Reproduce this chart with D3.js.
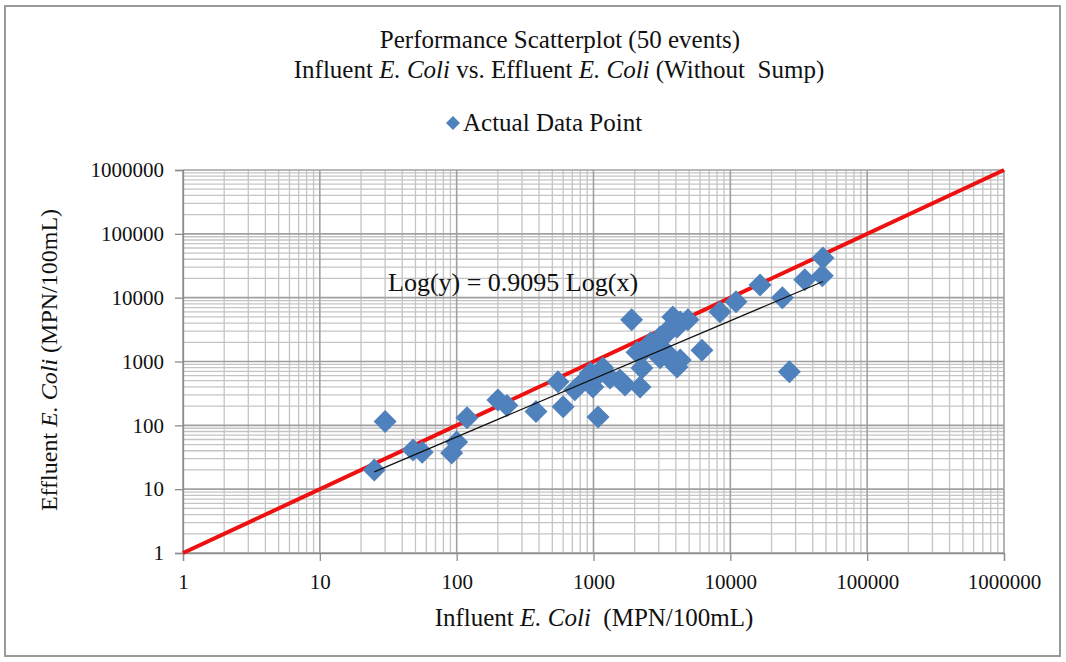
<!DOCTYPE html>
<html>
<head>
<meta charset="utf-8">
<script src="https://cdn.jsdelivr.net/npm/d3@7"></script>
<style>
  body { margin: 0; background: #fff; }
  text { font-family: "Liberation Serif", "Times New Roman", serif; fill: #111; }
</style>
</head>
<body>
<script>
// Chart size
const width = 1066
const height = 662

// Data (influent, effluent), MPN/100mL
const influent = [25, 30, 48, 56, 92, 100, 119, 200, 233, 380,
  550, 600, 950, 990, 1080, 1170, 1560, 2190, 1900, 2080,
  2600, 3070, 3800, 4080, 3450, 4080, 6200, 8400, 11000, 16500,
  24000, 27000, 35000, 47500, 47000, 730, 870, 1320, 1700, 2380,
  2820, 3340, 3630, 4300, 3070, 3750, 4300, 1080, 2260, 4900];
const effluent = [20, 115, 41, 38, 37, 55, 131, 250, 205, 165,
  480, 195, 660, 400, 135, 790, 515, 400, 4500, 1400,
  1950, 2430, 5000, 3480, 1360, 820, 1500, 6000, 8600, 15800,
  10000, 690, 19000, 42000, 22000, 360, 520, 550, 430, 1520,
  1820, 2600, 3360, 4170, 1140, 990, 1060, 620, 790, 4500];

const tickValues = [1, 10, 100, 1000, 10000, 100000, 1000000];
const slope = 0.9095;   // Log(y) = 0.9095 Log(x)
const trendRange = [25, 47500];

// Scales
const x = d3.scaleLog().domain([1, 1e6]).range([183, 1004]);
const y = d3.scaleLog().domain([1, 1e6]).range([553, 170]);

const svg = d3.select("body")
  .append("svg")
  .attr("width", width)
  .attr("height", height);

// outer frame
svg.append("rect")
  .attr("x", 5).attr("y", 6)
  .attr("width", 1055).attr("height", 650)
  .attr("fill", "#fff")
  .attr("stroke", "#9a9a9a")
  .attr("stroke-width", 2);

// minor + major grid lines
const minor = [];
for (let e = 0; e < 6; e++) for (let m = 2; m <= 9; m++) minor.push(m * Math.pow(10, e));

const grid = svg.append("g");
grid.selectAll(".vminor").data(minor).join("line")
  .attr("x1", d => x(d)).attr("x2", d => x(d))
  .attr("y1", y(1e6)).attr("y2", y(1))
  .attr("stroke", "#c4c4c4").attr("stroke-width", 1.3);
grid.selectAll(".hminor").data(minor).join("line")
  .attr("y1", d => y(d)).attr("y2", d => y(d))
  .attr("x1", x(1)).attr("x2", x(1e6))
  .attr("stroke", "#c4c4c4").attr("stroke-width", 1.3);
grid.selectAll(".vmajor").data(tickValues).join("line")
  .attr("x1", d => x(d)).attr("x2", d => x(d))
  .attr("y1", y(1e6)).attr("y2", y(1))
  .attr("stroke", "#a0a0a0").attr("stroke-width", 1.6);
grid.selectAll(".hmajor").data(tickValues).join("line")
  .attr("y1", d => y(d)).attr("y2", d => y(d))
  .attr("x1", x(1)).attr("x2", x(1e6))
  .attr("stroke", "#a0a0a0").attr("stroke-width", 1.6);

// axes
const xAxis = svg.append("g")
  .attr("transform", `translate(0,${y(1)})`)
  .call(d3.axisBottom(x).tickValues(tickValues).tickFormat(d3.format("d")).tickSizeOuter(0).tickSize(8).tickPadding(13));
const yAxis = svg.append("g")
  .attr("transform", `translate(${x(1)},0)`)
  .call(d3.axisLeft(y).tickValues(tickValues).tickFormat(d3.format("d")).tickSizeOuter(0).tickSize(8).tickPadding(11));
[xAxis, yAxis].forEach(a => {
  a.selectAll("path, line").attr("stroke", "#8c8c8c").attr("stroke-width", 1.3);
  a.selectAll("text").attr("font-size", 21).attr("font-family", "Liberation Serif").attr("fill", "#111");
});

// 1:1 line
svg.append("line")
  .attr("x1", x(1)).attr("y1", y(1))
  .attr("x2", x(1e6)).attr("y2", y(1e6))
  .attr("stroke", "#ee1111").attr("stroke-width", 4);

// data points (diamonds)
const pts = influent.map((v, i) => ({ x: v, y: effluent[i] }));
const h = 11.5;
svg.append("g").selectAll("path").data(pts).join("path")
  .attr("d", `M0,${-h}L${h},0L0,${h}L${-h},0Z`)
  .attr("transform", d => `translate(${x(d.x)},${y(d.y)})`)
  .attr("fill", "#4f81bd");

// trend line
svg.append("line")
  .attr("x1", x(trendRange[0])).attr("y1", y(Math.pow(trendRange[0], slope)))
  .attr("x2", x(trendRange[1])).attr("y2", y(Math.pow(trendRange[1], slope)))
  .attr("stroke", "#111").attr("stroke-width", 1.2);

svg.append("text")
  .attr("x", 388).attr("y", 291)
  .attr("font-size", 26)
  .text("Log(y) = 0.9095 Log(x)");

// title
const t1 = svg.append("text").attr("x", 560).attr("y", 48).attr("text-anchor", "middle").attr("font-size", 25);
t1.text("Performance Scatterplot (50 events)");
const t2 = svg.append("text").attr("x", 559).attr("y", 78).attr("text-anchor", "middle").attr("font-size", 25)
  .attr("style", "white-space: pre");
t2.append("tspan").text("Influent ");
t2.append("tspan").attr("font-style", "italic").text("E. Coli");
t2.append("tspan").text(" vs. Effluent ");
t2.append("tspan").attr("font-style", "italic").text("E. Coli");
t2.append("tspan").text(" (Without  Sump)");

// legend
svg.append("path")
  .attr("d", "M0,-7L7,0L0,7L-7,0Z")
  .attr("transform", "translate(453,123)")
  .attr("fill", "#4f81bd");
svg.append("text").attr("x", 463).attr("y", 131).attr("font-size", 25).text("Actual Data Point");

// axis titles
const xl = svg.append("text").attr("x", 594).attr("y", 626).attr("text-anchor", "middle").attr("font-size", 25)
  .attr("style", "white-space: pre");
xl.append("tspan").text("Influent ");
xl.append("tspan").attr("font-style", "italic").text("E. Coli");
xl.append("tspan").text("  (MPN/100mL)");

const yl = svg.append("text").attr("transform", "translate(57,360) rotate(-90)").attr("text-anchor", "middle").attr("font-size", 24);
yl.append("tspan").text("Effluent ");
yl.append("tspan").attr("font-style", "italic").text("E. Coli");
yl.append("tspan").text(" (MPN/100mL)");
</script>
</body>
</html>
